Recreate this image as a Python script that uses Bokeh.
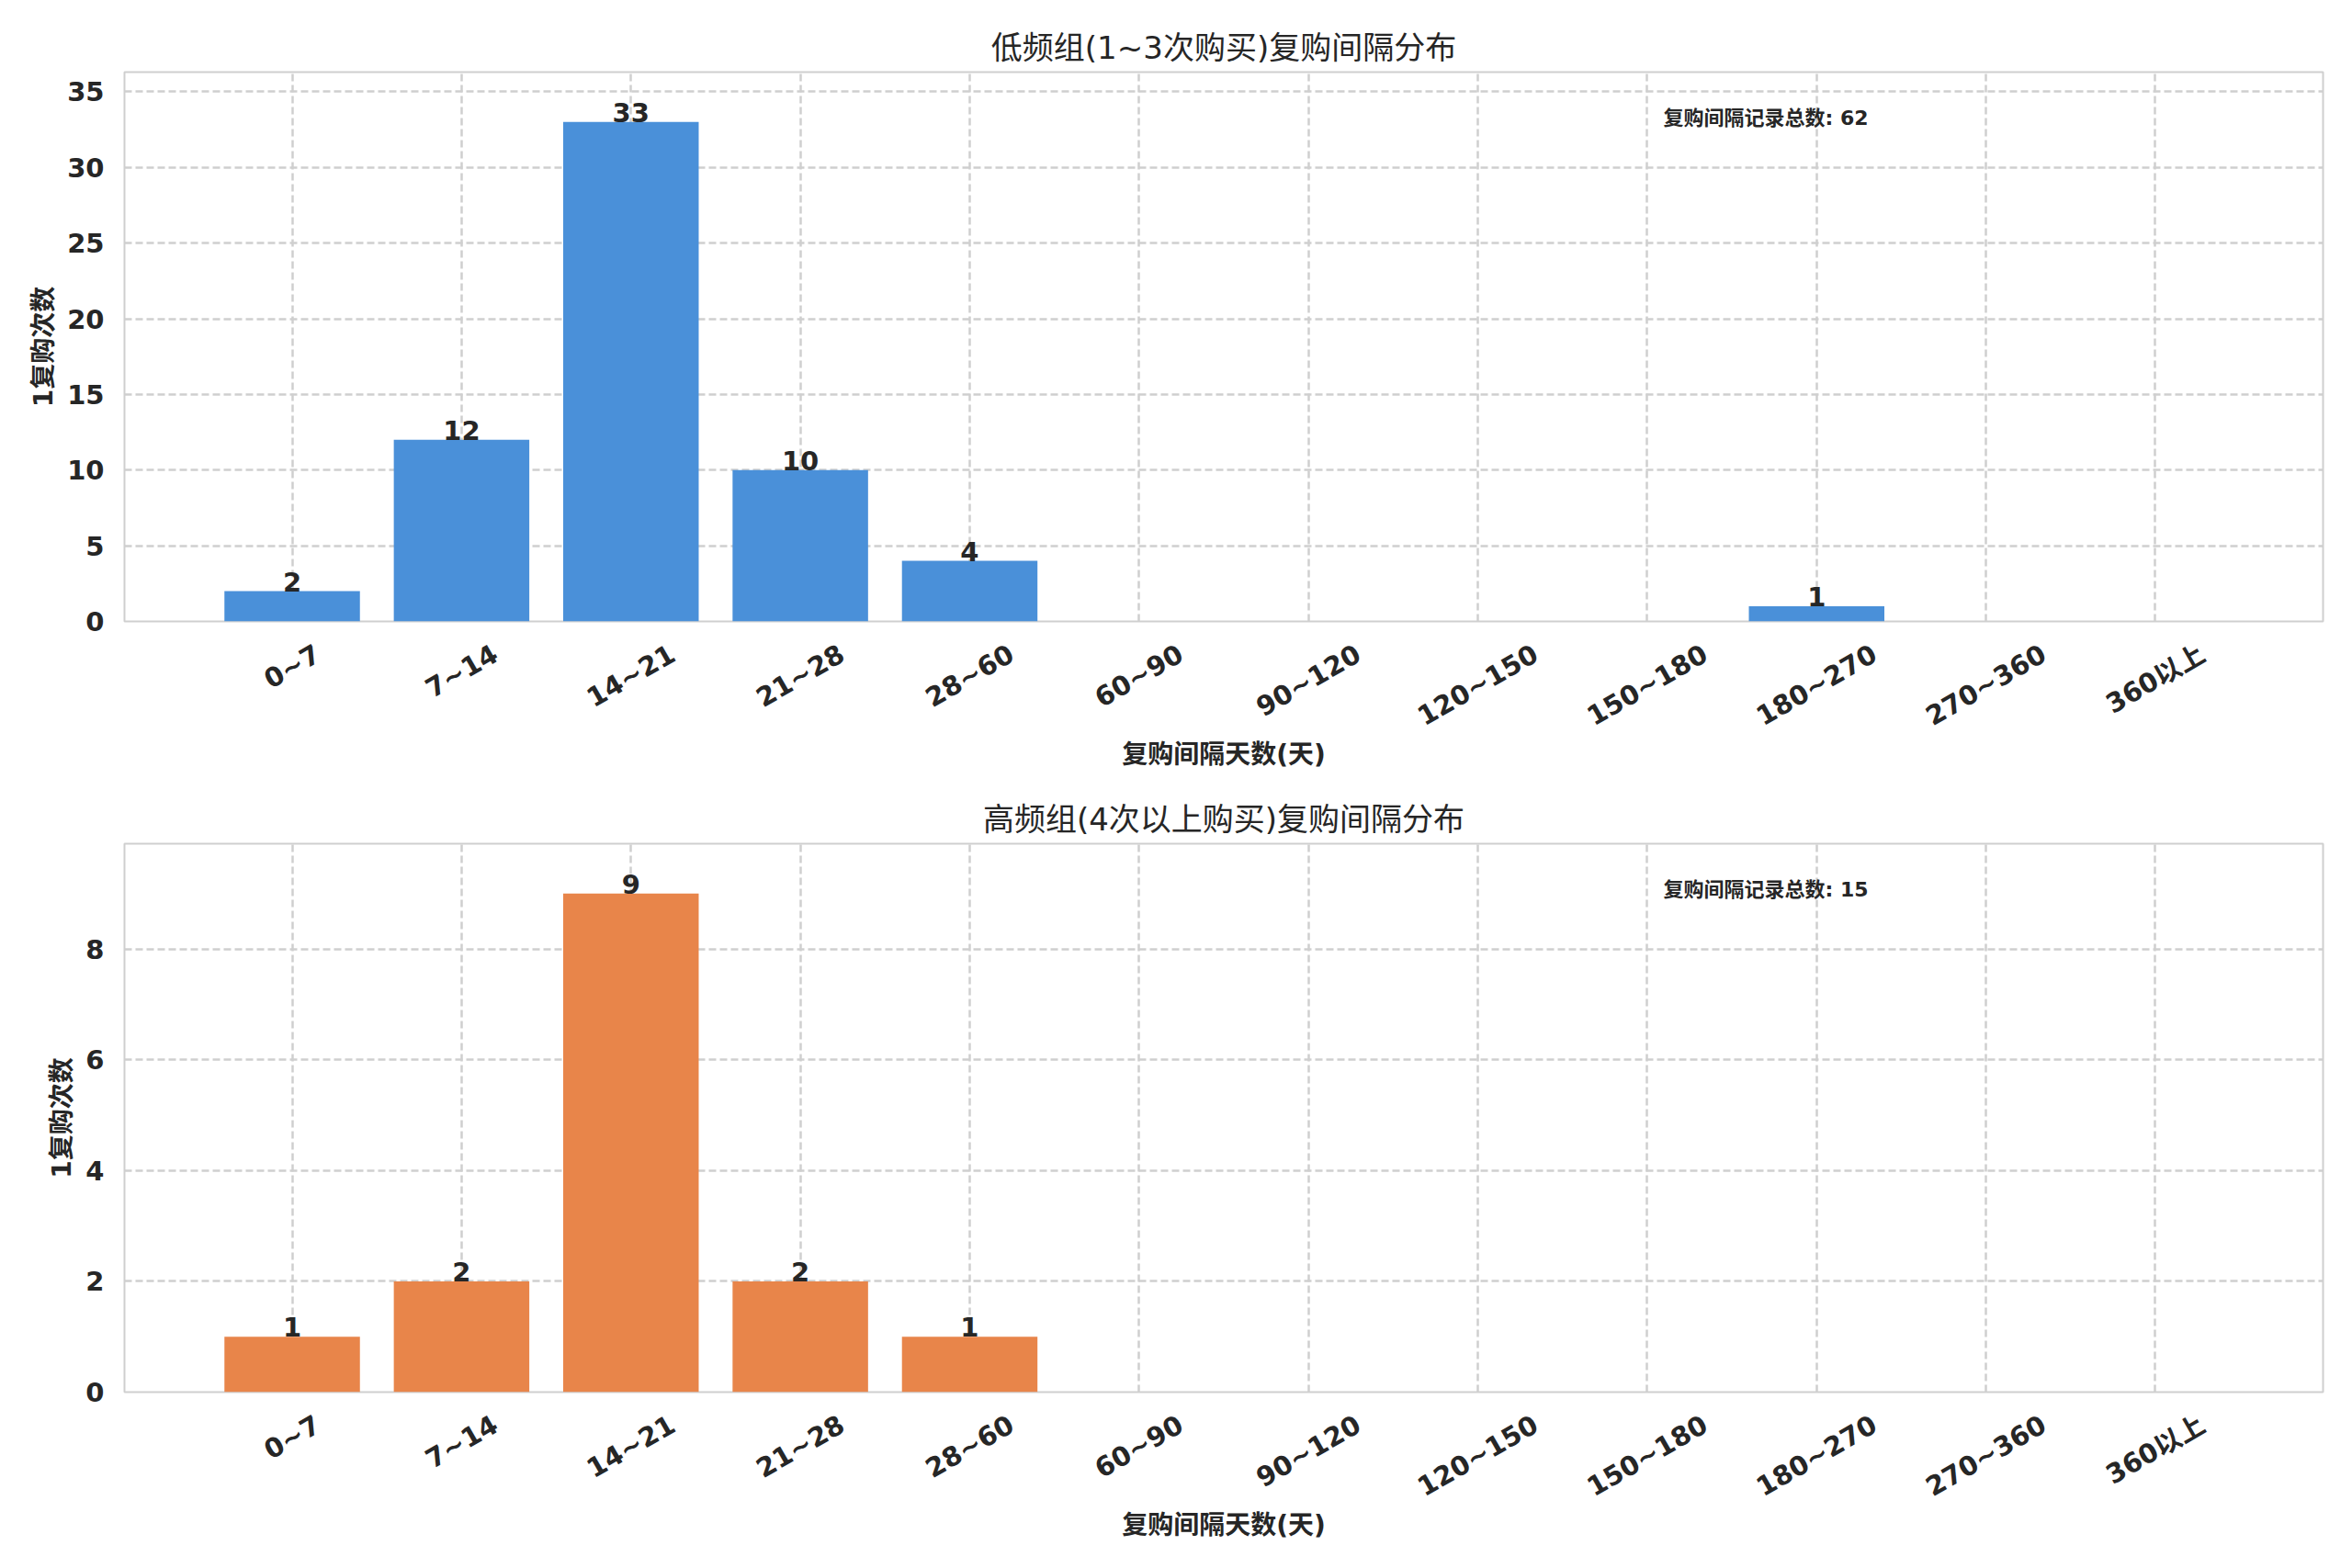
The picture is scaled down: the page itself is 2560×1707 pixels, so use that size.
import math
from bokeh.plotting import figure
from bokeh.layouts import column
from bokeh.models import (Range1d, Label, ColumnDataSource, FixedTicker,
                          SingleIntervalTicker, CustomJSTickFormatter)
from bokeh.embed import file_html
from bokeh.resources import INLINE
from bokeh.core.properties import value

categories = ["0~7", "7~14", "14~21", "21~28", "28~60", "60~90", "90~120",
              "120~150", "150~180", "180~270", "270~360", "360以上"]
low_counts = [2, 12, 33, 10, 4, 0, 0, 0, 0, 1, 0, 0]
high_counts = [1, 2, 9, 2, 1, 0, 0, 0, 0, 0, 0, 0]
titles = ["低频组(1~3次购买)复购间隔分布", "高频组(4次以上购买)复购间隔分布"]
colors = ["#4A90D9", "#E8854A"]
y_intervals = [5, 2]
x_label = "复购间隔天数(天)"
y_label = "1复购次数"
total_label = "复购间隔记录总数"

FONT = "DejaVu Sans, Noto Sans CJK SC"
TXT = "#262626"
GRID = "#cfcfcf"
TICK_PX = 29
ANGLE = math.pi / 6
FIG_W = 2552
B_LEFT, B_RIGHT = 135, 24


def est_width(s, px):
    w = 0.0
    for ch in s:
        if ord(ch) > 0x2E80:
            w += 1.0
        elif ch == "~":
            w += 0.838
        else:
            w += 0.696
    return w * px


def make_fig(counts, color, title, interval, height, b_top, b_bottom):
    n = len(categories)
    xs = list(range(n))
    bar_w = 0.8
    pad = bar_w / 2 + 0.05 * (n - 1 + bar_w)
    x0, x1 = -pad, n - 1 + pad
    ymax = max(counts) * 1.1
    p = figure(width=FIG_W, height=height, output_backend="svg", toolbar_location=None,
               x_range=Range1d(x0, x1), y_range=Range1d(0, ymax),
               min_border_left=B_LEFT, min_border_right=B_RIGHT,
               min_border_top=b_top, min_border_bottom=b_bottom)
    p.background_fill_color = "white"
    p.border_fill_color = "white"
    p.outline_line_color = GRID
    p.outline_line_width = 2

    src = ColumnDataSource(dict(x=xs, top=counts))
    p.vbar(x="x", top="top", width=bar_w, source=src, fill_color=color, line_color=None)

    lx = [x for x, c in zip(xs, counts) if c > 0]
    ly = [c for c in counts if c > 0]
    lsrc = ColumnDataSource(dict(x=lx, y=ly, t=[str(c) for c in ly]))
    p.text(x="x", y="y", text="t", source=lsrc, text_align="center", text_baseline="bottom",
           text_font_size="29px", text_font_style="bold", text_color=TXT,
           text_font=value("DejaVu Sans"))

    p.add_layout(Label(x=x0 + 0.7 * (x1 - x0), y=0.95 * ymax, y_offset=-8,
                       text=f"{total_label}: {sum(counts)}",
                       text_align="left", text_baseline="top",
                       text_font_size="22px", text_font_style="bold",
                       text_color=TXT, text_font=FONT))

    # Bokeh anchors a rotated label at its right end; shift each label's
    # anchor so that the label's centre sits under its category tick.
    px_per_unit = (FIG_W - B_LEFT - B_RIGHT) / (x1 - x0)
    label_pos = [xi + est_width(c, TICK_PX) / 2 * math.cos(ANGLE) / px_per_unit
                 for xi, c in zip(xs, categories)]

    p.title.text = title
    p.title.align = "center"
    p.title.text_font_size = "34px"
    p.title.text_font_style = "normal"
    p.title.text_color = TXT
    p.title.text_font = FONT
    p.title.standoff = 13

    p.xaxis.ticker = FixedTicker(ticks=label_pos)
    p.xaxis.formatter = CustomJSTickFormatter(args=dict(labels=categories),
                                              code="return labels[index];")
    p.xaxis.major_label_orientation = ANGLE
    p.yaxis.ticker = SingleIntervalTicker(interval=interval)
    for ax in (p.xaxis, p.yaxis):
        ax.axis_line_color = None
        ax.major_tick_line_color = None
        ax.minor_tick_line_color = None
        ax.major_label_text_font_size = f"{TICK_PX}px"
        ax.major_label_text_font_style = "bold"
        ax.major_label_text_color = TXT
        ax.major_label_text_font = FONT
        ax.axis_label_text_font_size = "28px"
        ax.axis_label_text_font_style = "bold"
        ax.axis_label_text_color = TXT
        ax.axis_label_text_font = FONT
    p.xaxis.axis_label = x_label
    p.yaxis.axis_label = y_label
    p.xaxis.major_label_standoff = 27
    p.yaxis.major_label_standoff = 16
    p.xaxis.axis_label_standoff = -10
    p.yaxis.axis_label_standoff = 6

    for g in (p.xgrid, p.ygrid):
        g.grid_line_color = GRID
        g.grid_line_dash = "8 4"
        g.grid_line_width = 2.5
    p.xgrid.ticker = FixedTicker(ticks=xs)
    return p


p1 = make_fig(low_counts, colors[0], titles[0], y_intervals[0], 861, 78, 185)
p2 = make_fig(high_counts, colors[1], titles[1], y_intervals[1], 838, 57, 184)
layout = column(p1, p2, spacing=0)

open("out.html", "w").write(file_html(layout, INLINE))
